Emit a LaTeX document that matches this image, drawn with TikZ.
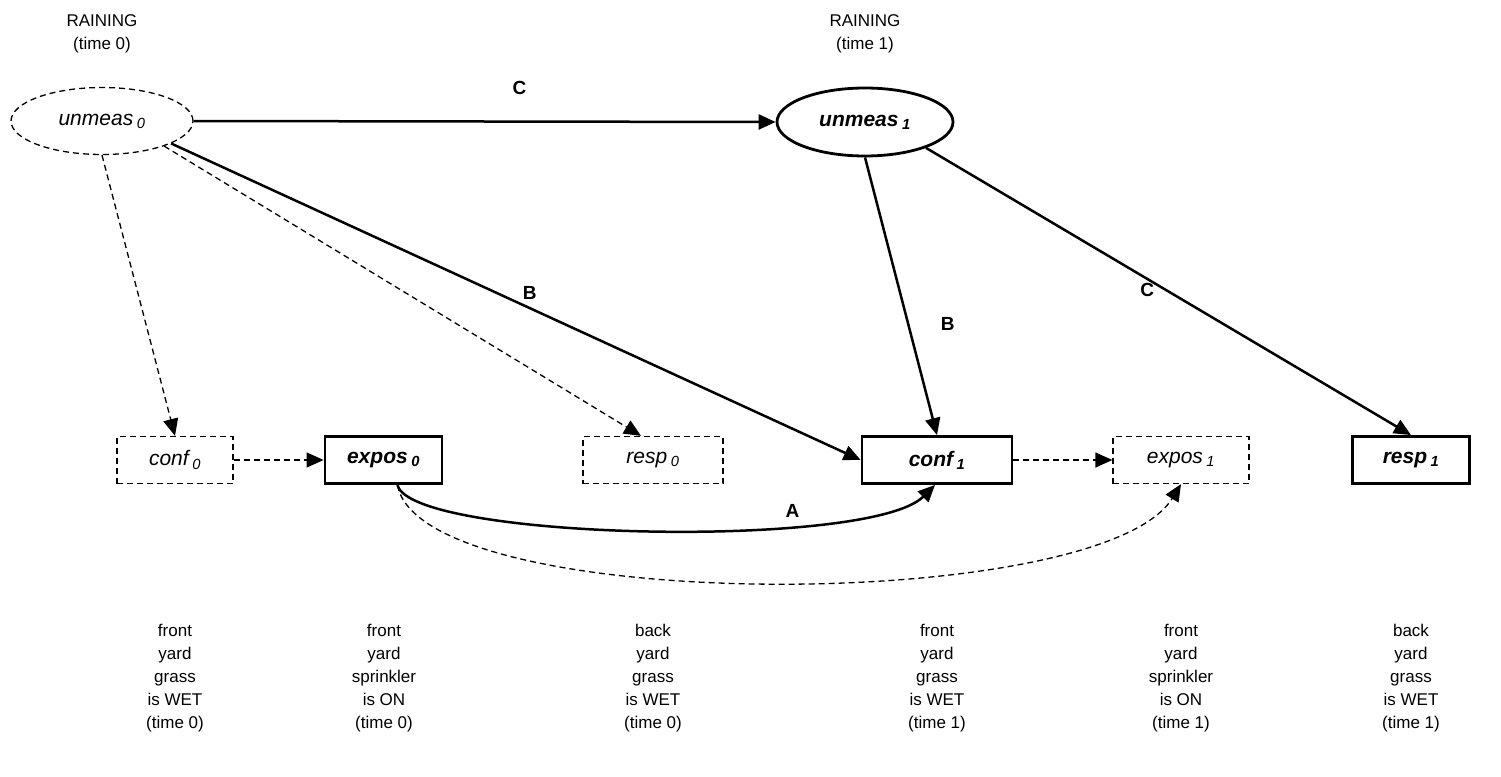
\documentclass[tikz,border=0pt]{standalone}
\usepackage{fontspec}
\setmainfont{Liberation Sans}
\usetikzlibrary{arrows.meta,positioning,calc,shapes.geometric}
\newcommand{\basefont}{\fontsize{17}{23}\selectfont}
\newcommand{\varfont}{\fontsize{21}{25}\selectfont}
\newcommand{\idx}[1]{\,\textsubscript{#1}}

\begin{document}
\begin{tikzpicture}[x=1pt,y=-1pt,
  hidden/.style={ellipse,draw,dash pattern=on 6pt off 4pt,line width=1.3pt,
                 minimum width=182pt,minimum height=67pt,font=\varfont\itshape},
  latent/.style={ellipse,draw,line width=2.8pt,minimum width=176pt,minimum height=68pt,
                 font=\varfont\bfseries\itshape},
  ghost/.style={rectangle,draw,dash pattern=on 6pt off 4pt,line width=1.3pt,
                minimum height=47pt,font=\varfont\itshape},
  var/.style={rectangle,draw,line width=2.8pt,minimum height=47pt,font=\varfont\bfseries\itshape},
  caption/.style={align=center,font=\basefont},
  tag/.style={font=\fontsize{19}{23}\selectfont\bfseries},
  line/.style={draw,-{Triangle[length=17pt,width=15pt]},line width=2.5pt},
  fb/.style={draw,-{Triangle[length=17pt,width=15pt]},dash pattern=on 6pt off 4pt,line width=1.3pt}]
\useasboundingbox (0,0) rectangle (1501,776);
\node[caption] (h0) at (102,34) {RAINING\\(time 0)};
\node[caption] (h1) at (865,34) {RAINING\\(time 1)};
\node[hidden] (u0) at (102,121) {unmeas\idx{0}};
\node[latent] (u1) at (865,122) {unmeas\idx{1}};
\node[ghost,minimum width=116pt] (c0) at (175,460)   {conf\idx{0}};
\node[var,minimum width=117pt]   (e0) at (383.5,460) {expos\idx{0}};
\node[ghost,minimum width=140pt] (r0) at (653,460)   {resp\idx{0}};
\node[var,minimum width=150pt]   (c1) at (937,460)   {conf\idx{1}};
\node[ghost,minimum width=136pt] (e1) at (1181,460)  {expos\idx{1}};
\node[var,minimum width=117pt]   (r1) at (1411,460)  {resp\idx{1}};
\node[caption] (t0) at (175,678)  {front\\yard\\grass\\is WET\\(time 0)};
\node[caption] (t1) at (384,678)  {front\\yard\\sprinkler\\is ON\\(time 0)};
\node[caption] (t2) at (653,678)  {back\\yard\\grass\\is WET\\(time 0)};
\node[caption] (t3) at (937,678)  {front\\yard\\grass\\is WET\\(time 1)};
\node[caption] (t4) at (1181,678) {front\\yard\\sprinkler\\is ON\\(time 1)};
\node[caption] (t5) at (1411,678) {back\\yard\\grass\\is WET\\(time 1)};
\path[line] (u0.east) -- node[tag,pos=0.56,above=22pt]{C} (u1.west);
\path[line] (u0.-18) -- node[tag,pos=0.52,above=4pt]{B} (c1.west);
\path[line] (u1.south) -- node[tag,pos=0.6,right=28pt]{B} (c1.north);
\path[line] (u1.-23) -- node[tag,pos=0.45,xshift=3pt,yshift=-13pt]{C} (r1.north);
\path[fb] (u0.south) -- (c0.north);
\path[fb] (u0.-22) -- ([xshift=-12pt]r0.north);
\path[fb] (c0.east) -- (e0.west);
\path[fb] (c1.east) -- (e1.west);
% the sprinkler reaches the front yard grass one step later
\path[line] ([xshift=14pt]e0.south) .. controls (410,540) and (870,550) .. node[tag,pos=0.7,above=2pt]{A} ([xshift=-2pt]c1.south);
\path[fb] ([xshift=14pt]e0.south) .. controls (420,615) and (1100,615) .. (e1.south);
\end{tikzpicture}
\end{document}
